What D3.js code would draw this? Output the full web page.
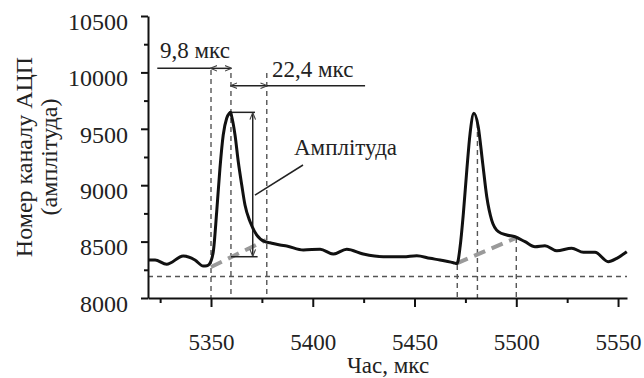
<!DOCTYPE html>
<html>
<head>
<meta charset="utf-8">
<script src="https://cdn.jsdelivr.net/npm/d3@7"></script>
<style>
  body { margin: 0; background: #fff; }
  svg { display: block; }
  text { font-family: "Liberation Serif", "Times New Roman", Tinos, "DejaVu Serif", "Noto Serif", serif; fill: #222; }
</style>
</head>
<body>
<svg id="chart" width="644" height="378"></svg>
<script>
// signal trace: time (us) and ADC channel
const timeUs = [5319.2, 5322.5, 5328.2, 5336.4, 5342.1, 5346.2, 5348.0, 5349.2, 5351.1, 5352.8,
  5354.4, 5356.0, 5357.7, 5359.0, 5359.6, 5360.2, 5361.8, 5363.4, 5365.1, 5366.7,
  5369.2, 5372.5, 5376.5, 5379.0, 5383.9, 5387.2, 5395.4, 5403.6, 5410.1, 5416.7,
  5424.8, 5434.7, 5444.5, 5451.1, 5457.6, 5462.5, 5469.1, 5470.9, 5472.4, 5474.0,
  5475.7, 5477.3, 5479.2, 5481.3, 5483.5, 5485.5, 5487.9, 5491.2, 5495.3, 5499.4,
  5504.3, 5509.2, 5514.1, 5519.9, 5527.2, 5533.0, 5538.7, 5545.2, 5549.4, 5554.3];
const channel = [8337, 8337, 8299, 8372, 8337, 8284, 8286, 8301, 8408, 8765,
  9152, 9445, 9593, 9637, 9646, 9607, 9445, 9208, 9002, 8824,
  8676, 8558, 8499, 8490, 8470, 8461, 8426, 8432, 8390, 8432,
  8390, 8366, 8366, 8375, 8352, 8337, 8313, 8305, 8455, 8751,
  9135, 9460, 9637, 9519, 9194, 8898, 8691, 8588, 8558, 8543,
  8499, 8455, 8464, 8419, 8441, 8405, 8405, 8322, 8352, 8410];

const xMajor = [5350, 5400, 5450, 5500, 5550];
const xMinor = [5325, 5375, 5425, 5475, 5525];
const yMajor = [8000, 8500, 9000, 9500, 10000, 10500];
const yMinor = [8250, 8750, 9250, 9750, 10250];

// annotation values
const noiseLevel = 8190;
const guideTimes = [5350, 5359.8, 5377.4];
const guideTops = [10021, 9995, 9995];
const guide2Times = [5471.0, 5480.9, 5500];
const guide2Tops = [8293, 9551, 8532];
const baseline1 = [[5350, 8275], [5377, 8514]];
const baseline2 = [[5470.7, 8307], [5499.6, 8530]];
const riseArrow = { from: 5350, to: 5359.8, y: 10036, lineFrom: 5323.6 };
const fallArrow = { from: 5359.8, to: 5377.4, y: 9882, lineTo: 5425.7 };
const amp = { x: 5370.5, top: 9646, bottom: 8366, left: 5359.8, rightTop: 5371.6, rightBottom: 5372.9 };
const ampLeader = [[5371.6, 8913], [5395.2, 9179]];

const svg = d3.select('#chart');
const x = d3.scaleLinear().domain([5319.04, 5554.4]).range([148, 627]);
const y = d3.scaleLinear().domain([8000, 10500]).range([298, 16]);
const serif = '"Liberation Serif", "Times New Roman", Tinos, "DejaVu Serif", "Noto Serif", serif';

const defs = svg.append('defs');
function marker(id, orient) {
  defs.append('marker')
    .attr('id', id)
    .attr('viewBox', '0 0 10 10')
    .attr('refX', 9).attr('refY', 5)
    .attr('markerWidth', 7).attr('markerHeight', 7)
    .attr('markerUnits', 'userSpaceOnUse')
    .attr('orient', orient)
    .append('path')
      .attr('d', 'M0,1 L10,5 L0,9')
      .attr('fill', 'none')
      .attr('stroke', '#444')
      .attr('stroke-width', 1.6);
}
marker('arr', 'auto');
marker('arrStart', 'auto-start-reverse');

const dashStyle = g => g.attr('stroke', '#555').attr('stroke-width', 1.4).attr('stroke-dasharray', '5,4').attr('fill', 'none');

// noise level
svg.append('line')
  .attr('x1', x.range()[0]).attr('x2', x.range()[1])
  .attr('y1', y(noiseLevel)).attr('y2', y(noiseLevel))
  .call(dashStyle);

// vertical guides
svg.selectAll('.guide')
  .data(guideTimes.map((t, i) => [t, guideTops[i]]).concat(guide2Times.map((t, i) => [t, guide2Tops[i]])))
  .enter().append('line')
    .attr('class', 'guide')
    .attr('x1', d => x(d[0])).attr('x2', d => x(d[0]))
    .attr('y1', d => y(d[1])).attr('y2', y(8000))
    .call(dashStyle);

// grey baselines under pulses
[baseline1, baseline2].forEach(b => {
  svg.append('line')
    .attr('x1', x(b[0][0])).attr('y1', y(b[0][1]))
    .attr('x2', x(b[1][0])).attr('y2', y(b[1][1]))
    .attr('stroke', '#9a9a9a').attr('stroke-width', 4)
    .attr('stroke-dasharray', '12,7');
});

// amplitude bracket
const thin = g => g.attr('stroke', '#222').attr('stroke-width', 1.5).attr('fill', 'none');
svg.append('line')
  .attr('x1', x(amp.left)).attr('x2', x(amp.rightTop))
  .attr('y1', y(amp.top)).attr('y2', y(amp.top)).call(thin);
svg.append('line')
  .attr('x1', x(amp.left)).attr('x2', x(amp.rightBottom))
  .attr('y1', y(amp.bottom)).attr('y2', y(amp.bottom)).call(thin);
svg.append('line')
  .attr('x1', x(amp.x)).attr('x2', x(amp.x))
  .attr('y1', y(amp.top) + 1).attr('y2', y(amp.bottom) - 1)
  .attr('marker-start', 'url(#arrStart)').attr('marker-end', 'url(#arr)')
  .call(thin);
svg.append('line')
  .attr('x1', x(ampLeader[0][0])).attr('y1', y(ampLeader[0][1]))
  .attr('x2', x(ampLeader[1][0])).attr('y2', y(ampLeader[1][1]))
  .call(thin);

// time interval arrows
svg.append('line')
  .attr('x1', x(riseArrow.lineFrom)).attr('x2', x(riseArrow.from))
  .attr('y1', y(riseArrow.y)).attr('y2', y(riseArrow.y)).call(thin);
svg.append('line')
  .attr('x1', x(riseArrow.from)).attr('x2', x(riseArrow.to))
  .attr('y1', y(riseArrow.y)).attr('y2', y(riseArrow.y))
  .attr('marker-start', 'url(#arrStart)').attr('marker-end', 'url(#arr)')
  .call(thin);
svg.append('line')
  .attr('x1', x(fallArrow.from)).attr('x2', x(fallArrow.to))
  .attr('y1', y(fallArrow.y)).attr('y2', y(fallArrow.y))
  .attr('marker-start', 'url(#arrStart)').attr('marker-end', 'url(#arr)')
  .call(thin);
svg.append('line')
  .attr('x1', x(fallArrow.to)).attr('x2', x(fallArrow.lineTo))
  .attr('y1', y(fallArrow.y)).attr('y2', y(fallArrow.y)).call(thin);

// signal
const line = d3.line()
  .x((d, i) => x(timeUs[i]))
  .y(d => y(d))
  .curve(d3.curveMonotoneX);
svg.append('path')
  .datum(channel)
  .attr('d', line)
  .attr('fill', 'none')
  .attr('stroke', '#111')
  .attr('stroke-width', 3)
  .attr('stroke-linejoin', 'round');

// axes
const axisStyle = (g, size) => {
  g.attr('font-family', serif);
  g.select('.domain').attr('stroke', '#111').attr('stroke-width', 2);
  g.selectAll('.tick line').attr('stroke', '#111').attr('stroke-width', 2);
  g.selectAll('text').style('font-size', size).attr('fill', '#222')
    .style('font-family', serif);
};

svg.append('g')
  .attr('transform', `translate(0,${y(8000)})`)
  .call(d3.axisBottom(x).tickValues(xMinor).tickSize(5).tickSizeOuter(0).tickFormat(''))
  .call(g => axisStyle(g, '23px'));
svg.append('g')
  .attr('transform', `translate(0,${y(8000)})`)
  .call(d3.axisBottom(x).tickValues(xMajor).tickSize(9).tickSizeOuter(0).tickPadding(27).tickFormat(d3.format('d')))
  .call(g => axisStyle(g, '23px'))
  .call(g => g.select('.domain').remove());

svg.append('g')
  .attr('transform', `translate(${x.range()[0]},0)`)
  .call(d3.axisLeft(y).tickValues(yMinor).tickSize(4).tickSizeOuter(0).tickFormat(''))
  .call(g => axisStyle(g, '23px'));
svg.append('g')
  .attr('transform', `translate(${x.range()[0]},0)`)
  .call(d3.axisLeft(y).tickValues(yMajor).tickSize(7).tickSizeOuter(0).tickPadding(13).tickFormat(d3.format('d')))
  .call(g => axisStyle(g, '24px'))
  .call(g => g.select('.domain').remove())
  .call(g => g.selectAll('text').attr('dy', '0.55em'));

// axis titles
svg.append('text')
  .attr('x', 388).attr('y', 373)
  .attr('text-anchor', 'middle')
  .style('font-size', '23px')
  .text('Час, мкс');

const yl = svg.append('text')
  .attr('transform', `translate(0,${(y(8000) + y(10500)) / 2}) rotate(-90)`)
  .attr('text-anchor', 'middle')
  .style('font-size', '24px');
yl.append('tspan').attr('x', 0).attr('y', 32).text('Номер каналу АЦП');
yl.append('tspan').attr('x', 0).attr('y', 57).text('(амплітуда)');

// annotation labels
svg.append('text').attr('x', 160).attr('y', 58).style('font-size', '23px').text('9,8 мкс');
svg.append('text').attr('x', 272).attr('y', 77).style('font-size', '23px').text('22,4 мкс');
svg.append('text').attr('x', 294).attr('y', 155).style('font-size', '23px').text('Амплітуда');
</script>
</body>
</html>
